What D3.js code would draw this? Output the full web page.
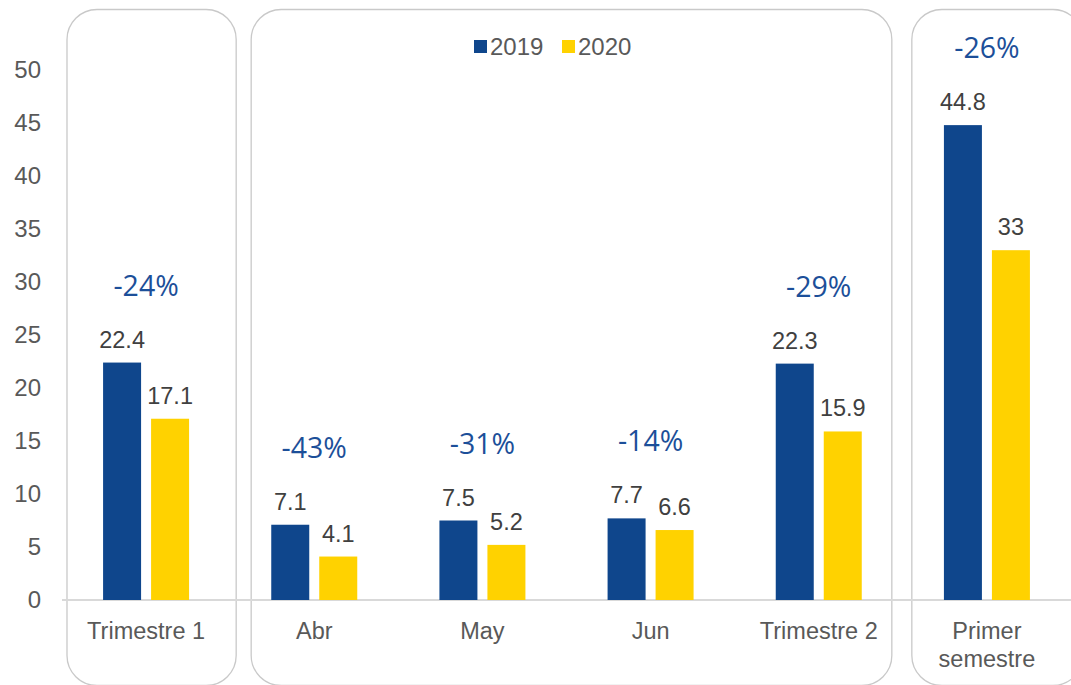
<!DOCTYPE html>
<html>
<head>
<meta charset="utf-8">
<script src="https://cdn.jsdelivr.net/npm/d3@7"></script>
<style>
  body { margin: 0; background: #fff; }
  svg { display: block; }
</style>
</head>
<body>
<svg id="chart" width="1071" height="685"></svg>
<script>
// chart values
const categories = ["Trimestre 1", "Abr", "May", "Jun", "Trimestre 2", "Primer semestre"];
const series = ["2019", "2020"];
const values2019 = [22.4, 7.1, 7.5, 7.7, 22.3, 44.8];
const values2020 = [17.1, 4.1, 5.2, 6.6, 15.9, 33];
const changeLabels = ["-24%", "-43%", "-31%", "-14%", "-29%", "-26%"];
const yTicks = [0, 5, 10, 15, 20, 25, 30, 35, 40, 45, 50];
const colors = {"2019": "#0f468c", "2020": "#ffd200"};

const svg = d3.select("#chart");
const width = 1071;
const font = "Liberation Sans, Arial, sans-serif";

const x = d3.scaleBand()
    .domain(categories)
    .range([62, 1071]);

const xSub = d3.scaleBand()
    .domain(series)
    .range([-43, 43])
    .paddingInner(10 / 48);

const y = d3.scaleLinear()
    .domain([0, 50])
    .range([600, 70]);

// rounded frames round groups of categories
const frames = [
    {from: 0, to: 0, l: 5, r: 6},
    {from: 1, to: 4, l: 21, r: -11},
    {from: 5, to: 5, l: 9, r: 12}
];
frames.forEach(f => {
    const x0 = x(categories[f.from]) + f.l;
    const x1 = x(categories[f.to]) + x.bandwidth() + f.r;
    svg.append("rect")
        .attr("x", x0)
        .attr("y", 9.5)
        .attr("width", x1 - x0)
        .attr("height", 676)
        .attr("rx", 30)
        .attr("fill", "none")
        .attr("stroke", "#c9c9c9")
        .attr("stroke-width", 1.3);
});

// y axis labels
const yAxis = d3.axisLeft(y).tickValues(yTicks).tickSize(0).tickPadding(0);
const yg = svg.append("g").attr("transform", "translate(41,0)").call(yAxis);
yg.select(".domain").remove();
yg.selectAll("text")
    .attr("font-family", font)
    .attr("font-size", 24)
    .attr("fill", "#595959");

// baseline
svg.append("line")
    .attr("x1", 62).attr("x2", width)
    .attr("y1", y(0)).attr("y2", y(0))
    .attr("stroke", "#d9d9d9")
    .attr("stroke-width", 2);

// bars
const rows = categories.map((c, i) => ({
    cat: c,
    vals: [{s: "2019", v: values2019[i]}, {s: "2020", v: values2020[i]}],
    change: changeLabels[i]
}));

const groups = svg.selectAll("g.cat")
    .data(rows)
    .enter()
    .append("g")
    .attr("class", "cat")
    .attr("transform", d => `translate(${x(d.cat) + x.bandwidth() / 2},0)`);

groups.selectAll("rect")
    .data(d => d.vals)
    .enter()
    .append("rect")
    .attr("x", d => xSub(d.s))
    .attr("y", d => y(d.v))
    .attr("width", xSub.bandwidth())
    .attr("height", d => y(0) - y(d.v))
    .attr("fill", d => colors[d.s]);

groups.selectAll("text.val")
    .data(d => d.vals)
    .enter()
    .append("text")
    .attr("class", "val")
    .attr("x", d => xSub(d.s) + xSub.bandwidth() / 2)
    .attr("y", d => y(d.v) - 15)
    .attr("text-anchor", "middle")
    .attr("font-family", font)
    .attr("font-size", 23.5)
    .attr("fill", "#404040")
    .text(d => d.v);

groups.append("text")
    .attr("x", 0)
    .attr("y", d => y(d3.max(d.vals, v => v.v)) - 67)
    .attr("text-anchor", "middle")
    .attr("font-family", "Open Sans, sans-serif")
    .attr("font-size", 28.5)
    .attr("fill", "#1c4f99")
    .text(d => d.change);

// category labels
groups.each(function(d) {
    const words = d.cat === "Primer semestre" ? ["Primer", "semestre"] : [d.cat];
    const t = d3.select(this).append("text")
        .attr("text-anchor", "middle")
        .attr("font-family", font)
        .attr("font-size", 23.5)
        .attr("fill", "#595959");
    words.forEach((w, i) => {
        t.append("tspan").attr("x", 0).attr("y", 639 + i * 28).text(w);
    });
});

// legend
const legend = svg.append("g").attr("transform", "translate(474,40)");
series.forEach((s, i) => {
    const g = legend.append("g").attr("transform", `translate(${i * 88},0)`);
    g.append("rect").attr("width", 13).attr("height", 13).attr("fill", colors[s]);
    g.append("text")
        .attr("x", 16).attr("y", 14.5)
        .attr("font-family", font)
        .attr("font-size", 24)
        .attr("fill", "#595959")
        .text(s);
});
</script>
</body>
</html>
